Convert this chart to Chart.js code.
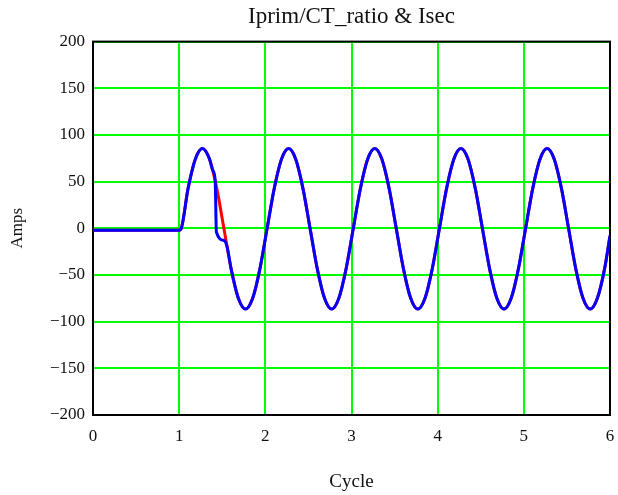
<!DOCTYPE html>
<html>
<head>
<meta charset="utf-8">
<script src="https://cdn.jsdelivr.net/npm/chart.js@4"></script>
<style>
  html, body { margin: 0; padding: 0; background: #fff; }
  #wrap { width: 618px; height: 495px; }
</style>
</head>
<body>
<div id="wrap"><canvas id="ctChart" width="618" height="495"></canvas></div>
<script>
// Iprim/CT_ratio (red) - samples
const cycle = [0, 0.5, 1.0,
  1.02, 1.103, 1.187, 1.27, 1.353, 1.437, 1.52, 1.603, 1.687, 1.77, 1.853, 1.937,
  2.02, 2.103, 2.187, 2.27, 2.353, 2.437, 2.52, 2.603, 2.687, 2.77, 2.853, 2.937,
  3.02, 3.103, 3.187, 3.27, 3.353, 3.437, 3.52, 3.603, 3.687, 3.77, 3.853, 3.937,
  4.02, 4.103, 4.187, 4.27, 4.353, 4.437, 4.52, 4.603, 4.687, 4.77, 4.853, 4.937,
  5.02, 5.103, 5.187, 5.27, 5.353, 5.437, 5.52, 5.603, 5.687, 5.77, 5.853, 5.937,
  6.0];
const iprim = [-2, -2, -2,
  -1, 42.5, 74, 85.5, 74, 42.5, -0.5, -43.5, -75, -86.5, -75, -43.5,
  -0.5, 42.5, 74, 85.5, 74, 42.5, -0.5, -43.5, -75, -86.5, -75, -43.5,
  -0.5, 42.5, 74, 85.5, 74, 42.5, -0.5, -43.5, -75, -86.5, -75, -43.5,
  -0.5, 42.5, 74, 85.5, 74, 42.5, -0.5, -43.5, -75, -86.5, -75, -43.5,
  -0.5, 42.5, 74, 85.5, 74, 42.5, -0.5, -43.5, -75, -86.5, -75, -43.5,
  -8];

// Isec (blue) follows Iprim except where the CT saturates after the first peak
const satCycle = [1.39, 1.418, 1.432, 1.52, 1.555];
const satIsec = [62, 51, -4, -13, -19.3];
const satFrom = 1.353, satTo = 1.603;

const yTicks = [-200, -150, -100, -50, 0, 50, 100, 150, 200];

const primPts = cycle.map((c, i) => ({ x: c, y: iprim[i] }));
const secPts = primPts.filter(p => p.x <= satFrom || p.x >= satTo)
  .concat(satCycle.map((c, i) => ({ x: c, y: satIsec[i] })))
  .sort((a, b) => a.x - b.x);

const serif = 'Liberation Serif';

const frame = {
  id: 'frame',
  beforeDatasetsDraw(chart) {
    const { ctx, chartArea: a } = chart;
    ctx.save();
    ctx.strokeStyle = '#000';
    ctx.lineWidth = 2;
    ctx.strokeRect(a.left, a.top, a.right - a.left, a.bottom - a.top);
    ctx.restore();
  }
};

new Chart(document.getElementById('ctChart').getContext('2d'), {
  type: 'line',
  data: {
    datasets: [
      {
        label: 'Isec',
        data: secPts,
        borderColor: '#0000ff',
        borderWidth: 3,
        pointRadius: 0,
        cubicInterpolationMode: 'monotone',
        order: 0
      },
      {
        label: 'Iprim/CT_ratio',
        data: primPts,
        borderColor: '#ff0000',
        borderWidth: 3,
        pointRadius: 0,
        cubicInterpolationMode: 'monotone',
        order: 1
      }
    ]
  },
  options: {
    responsive: false,
    animation: false,
    layout: { padding: 0 },
    plugins: {
      legend: { display: false },
      tooltip: { enabled: false },
      title: {
        display: true,
        text: 'Iprim/CT_ratio & Isec',
        fullSize: false,
        color: '#111',
        font: { family: serif, size: 23, weight: 'normal' },
        padding: { top: 3, bottom: 11 }
      }
    },
    scales: {
      x: {
        type: 'linear',
        min: 0,
        max: 6,
        border: { display: false },
        grid: { color: '#00ff00', lineWidth: 2, drawTicks: false },
        ticks: {
          stepSize: 1,
          padding: 11,
          color: '#111',
          font: { family: serif, size: 17 }
        },
        title: {
          display: true,
          text: 'Cycle',
          color: '#111',
          font: { family: serif, size: 19 },
          padding: { top: 0, bottom: 2 }
        },
        afterFit(scale) {
          scale.height = 80;
          scale.paddingLeft = 0;
          scale.paddingRight = 8;
        }
      },
      y: {
        type: 'linear',
        min: -200,
        max: 200,
        border: { display: false },
        grid: { color: '#00ff00', lineWidth: 2, drawTicks: false },
        afterBuildTicks(scale) { scale.ticks = yTicks.map(v => ({ value: v })); },
        ticks: {
          padding: 8,
          color: '#111',
          font: { family: serif, size: 17 },
          callback: v => String(v).replace('-', '\u2212')
        },
        title: {
          display: true,
          text: 'Amps',
          color: '#111',
          font: { family: serif, size: 17 },
          padding: { top: 7, bottom: 0 }
        },
        afterFit(scale) { scale.width = 93; }
      }
    }
  },
  plugins: [frame]
});
</script>
</body>
</html>
